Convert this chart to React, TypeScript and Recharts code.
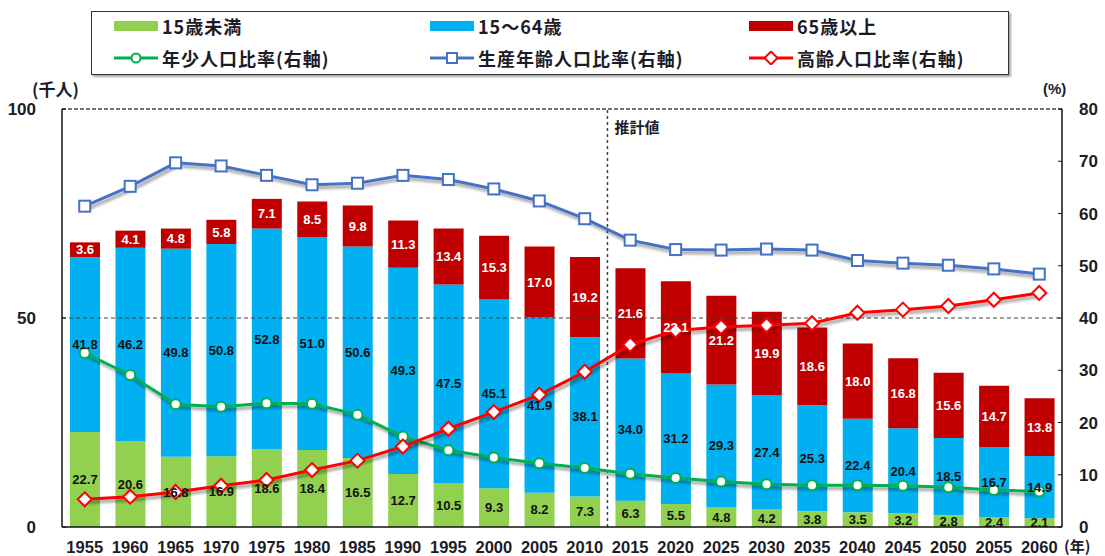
import React from "react";
import {
  Bar,
  ComposedChart,
  LabelList,
  Line,
  ReferenceLine,
  XAxis,
  YAxis,
} from "recharts";

const years = [
  "1955", "1960", "1965", "1970", "1975", "1980", "1985", "1990", "1995", "2000", "2005",
  "2010", "2015", "2020", "2025", "2030", "2035", "2040", "2045", "2050", "2055", "2060",
];
const under15 = [
  22.7, 20.6, 16.8, 16.9, 18.6, 18.4, 16.5, 12.7, 10.5, 9.3, 8.2,
  7.3, 6.3, 5.5, 4.8, 4.2, 3.8, 3.5, 3.2, 2.8, 2.4, 2.1,
];
const age15to64 = [
  41.8, 46.2, 49.8, 50.8, 52.8, 51.0, 50.6, 49.3, 47.5, 45.1, 41.9,
  38.1, 34.0, 31.2, 29.3, 27.4, 25.3, 22.4, 20.4, 18.5, 16.7, 14.9,
];
const over65 = [
  3.6, 4.1, 4.8, 5.8, 7.1, 8.5, 9.8, 11.3, 13.4, 15.3, 17.0,
  19.2, 21.6, 22.1, 21.2, 19.9, 18.6, 18.0, 16.8, 15.6, 14.7, 13.8,
];
// 比率 (%)
const youngRatio = [
  33.3, 29.1, 23.5, 23.0, 23.7, 23.6, 21.5, 17.3, 14.7, 13.3, 12.2,
  11.3, 10.2, 9.4, 8.7, 8.2, 8.0, 8.0, 7.9, 7.6, 7.1, 6.8,
];
const workingRatio = [
  61.4, 65.2, 69.7, 69.1, 67.3, 65.5, 65.8, 67.3, 66.5, 64.7, 62.4,
  59.0, 54.9, 53.1, 53.0, 53.2, 53.0, 51.0, 50.5, 50.1, 49.4, 48.4,
];
const elderlyRatio = [
  5.3, 5.8, 6.7, 7.9, 9.0, 10.9, 12.7, 15.4, 18.8, 22.0, 25.3,
  29.7, 34.9, 37.6, 38.3, 38.6, 39.0, 41.0, 41.6, 42.3, 43.5, 44.8,
];
const leftTicks = [0, 50, 100];
const rightTicks = [0, 10, 20, 30, 40, 50, 60, 70, 80];
const boundaryTicks = [1, 2, 3, 4, 5, 6, 7, 8, 9, 10, 11, 12, 13, 14, 15, 16, 17, 18, 19, 20, 21];
const estimateStart = 12; // 2015年以降は推計値

const data = years.map((year, i) => ({
  year,
  slot: i + 0.5,
  under15: under15[i],
  age15to64: age15to64[i],
  over65: over65[i],
  young: youngRatio[i],
  working: workingRatio[i],
  elderly: elderlyRatio[i],
}));

const GREEN = "#92d050";
const BLUE = "#00b0f0";
const RED = "#c00000";
const LGREEN = "#00b050";
const LBLUE = "#4472c4";
const LRED = "#ff0000";
const TXT = "#1c1c28";
const NUM_FONT = "'Liberation Sans', Arial, sans-serif";
const JP_FONT = "'Noto Sans CJK JP', sans-serif";

const labelStyle = { fontFamily: NUM_FONT, fontSize: 13, fontWeight: 700 };

function CircleDot(props: any) {
  const { cx, cy, index } = props;
  if (cx == null || cy == null) return <g key={index} />;
  return <circle key={index} cx={cx} cy={cy} r={5} fill="#fff" stroke={LGREEN} strokeWidth={2} />;
}

function SquareDot(props: any) {
  const { cx, cy, index } = props;
  if (cx == null || cy == null) return <g key={index} />;
  return <rect key={index} x={cx - 5.5} y={cy - 5.5} width={11} height={11} fill="#fff" stroke={LBLUE} strokeWidth={2} />;
}

function DiamondDot(props: any) {
  const { cx, cy, index } = props;
  if (cx == null || cy == null) return <g key={index} />;
  return (
    <path
      key={index}
      d={`M${cx},${cy - 7} L${cx + 7},${cy} L${cx},${cy + 7} L${cx - 7},${cy} Z`}
      fill="#fff"
      stroke={LRED}
      strokeWidth={2}
    />
  );
}

function SwatchItem({ x, y, color, text }: { x: number; y: number; color: string; text: string }) {
  return (
    <div style={{ position: "absolute", left: x, top: y - 12, height: 24, display: "flex", alignItems: "center" }}>
      <div style={{ width: 44, height: 10, background: color, marginRight: 4 }} />
      <span>{text}</span>
    </div>
  );
}

function LineItem({ x, y, color, marker, text }: { x: number; y: number; color: string; marker: string; text: string }) {
  return (
    <div style={{ position: "absolute", left: x, top: y - 12, height: 24, display: "flex", alignItems: "center" }}>
      <svg width={44} height={14} style={{ marginRight: 4 }}>
        <line x1={0} y1={7} x2={44} y2={7} stroke={color} strokeWidth={3} />
        {marker === "circle" && <circle cx={22} cy={7} r={4.5} fill="#fff" stroke={color} strokeWidth={2} />}
        {marker === "square" && <rect x={17} y={2} width={10} height={10} fill="#fff" stroke={color} strokeWidth={2} />}
        {marker === "diamond" && <path d="M22,0.5 L28.5,7 L22,13.5 L15.5,7 Z" fill="#fff" stroke={color} strokeWidth={2} />}
      </svg>
      <span>{text}</span>
    </div>
  );
}

function LegendBox() {
  return (
    <div
      style={{
        position: "absolute",
        left: 91,
        top: 11,
        width: 916,
        height: 62,
        border: "1.5px solid #333",
        boxShadow: "2px 2px 2px rgba(0,0,0,0.35)",
        fontFamily: JP_FONT,
        fontWeight: 700,
        fontSize: 18,
        letterSpacing: 1,
        color: TXT,
        background: "#fff",
      }}
    >
      <SwatchItem x={22} y={14} color={GREEN} text="15歳未満" />
      <SwatchItem x={338} y={14} color={BLUE} text="15～64歳" />
      <SwatchItem x={657} y={14} color={RED} text="65歳以上" />
      <LineItem x={22} y={46} color={LGREEN} marker="circle" text="年少人口比率(右軸)" />
      <LineItem x={338} y={46} color={LBLUE} marker="square" text="生産年齢人口比率(右軸)" />
      <LineItem x={657} y={46} color={LRED} marker="diamond" text="高齢人口比率(右軸)" />
    </div>
  );
}

const unitStyle = {
  position: "absolute" as const,
  whiteSpace: "nowrap" as const,
  width: "max-content",
  fontWeight: 700,
  lineHeight: "16px",
  color: TXT,
};

export default function App() {
  return (
    <div style={{ position: "absolute", left: 0, top: 0, width: 1105, height: 556, background: "#fff", overflow: "hidden" }}>
      <style>{`.shadowline { filter: url(#lineShadow); }`}</style>
      <svg width={0} height={0} style={{ position: "absolute" }}>
        <defs>
          <filter id="lineShadow" x="-10%" y="-10%" width="130%" height="140%">
            <feGaussianBlur in="SourceAlpha" stdDeviation="1.5" />
            <feOffset dx="2" dy="3" result="off" />
            <feComponentTransfer>
              <feFuncA type="linear" slope="0.4" />
            </feComponentTransfer>
            <feMerge>
              <feMergeNode />
              <feMergeNode in="SourceGraphic" />
            </feMerge>
          </filter>
        </defs>
      </svg>
      <ComposedChart
        width={1105}
        height={556}
        data={data}
        margin={{ top: 109, right: 0, bottom: 0, left: 0 }}
        barSize={30}
      >
        <XAxis
          xAxisId={0}
          dataKey="slot"
          type="number"
          domain={[0, 22]}
          ticks={boundaryTicks}
          allowDataOverflow
          height={0}
          mirror
          tick={false}
          tickSize={5}
          axisLine={false}
          tickLine={{ stroke: "#333", strokeWidth: 1 }}
        />
        <XAxis
          xAxisId={1}
          dataKey="year"
          height={29}
          tickSize={0}
          tickMargin={14}
          interval={0}
          axisLine={{ stroke: "#111", strokeWidth: 1.5 }}
          tick={{ fill: TXT, fontFamily: NUM_FONT, fontSize: 16.5, fontWeight: 700 }}
        />
        <YAxis
          yAxisId="left"
          domain={[0, 100]}
          ticks={leftTicks}
          width={62}
          tickSize={-4}
          tickMargin={30}
          axisLine={{ stroke: "#111", strokeWidth: 1.5 }}
          tickLine={{ stroke: "#111" }}
          tick={{ fill: TXT, fontFamily: NUM_FONT, fontSize: 17, fontWeight: 700 }}
        />
        <YAxis
          yAxisId="right"
          orientation="right"
          domain={[0, 80]}
          ticks={rightTicks}
          width={43}
          tickSize={-4}
          tickMargin={21}
          axisLine={{ stroke: "#111", strokeWidth: 1.5 }}
          tickLine={{ stroke: "#111" }}
          tick={{ fill: TXT, fontFamily: NUM_FONT, fontSize: 17, fontWeight: 700 }}
        />
        <ReferenceLine yAxisId="left" xAxisId={1} y={100} stroke="#444" strokeDasharray="4 2" strokeWidth={1.5} />
        <ReferenceLine yAxisId="left" xAxisId={1} y={50} stroke="#444" strokeDasharray="4 3" strokeWidth={1.2} />
        <ReferenceLine
          yAxisId="left"
          xAxisId={0}
          x={estimateStart}
          stroke="#444"
          strokeDasharray="3 3"
          strokeWidth={1.5}
          label={(p: any) => (
            <text
              x={p.viewBox.x + 7}
              y={p.viewBox.y + 24}
              fill={TXT}
              fontFamily={JP_FONT}
              fontWeight={700}
              fontSize={15}
            >
              推計値
            </text>
          )}
        />
        <Bar xAxisId={1} yAxisId="left" dataKey="under15" stackId="pop" fill={GREEN} isAnimationActive={false}>
          <LabelList dataKey="under15" position="center" fill="#111" style={labelStyle} formatter={(v: any) => Number(v).toFixed(1)} />
        </Bar>
        <Bar xAxisId={1} yAxisId="left" dataKey="age15to64" stackId="pop" fill={BLUE} isAnimationActive={false}>
          <LabelList dataKey="age15to64" position="center" fill="#111" style={labelStyle} formatter={(v: any) => Number(v).toFixed(1)} />
        </Bar>
        <Bar xAxisId={1} yAxisId="left" dataKey="over65" stackId="pop" fill={RED} isAnimationActive={false}>
          <LabelList dataKey="over65" position="center" fill="#fff" style={labelStyle} formatter={(v: any) => Number(v).toFixed(1)} />
        </Bar>
        <Line
          xAxisId={1}
          yAxisId="right"
          dataKey="young"
          className="shadowline"
          stroke={LGREEN}
          strokeWidth={3}
          dot={CircleDot}
          activeDot={false}
          isAnimationActive={false}
        />
        <Line
          xAxisId={1}
          yAxisId="right"
          dataKey="working"
          className="shadowline"
          stroke={LBLUE}
          strokeWidth={3}
          dot={SquareDot}
          activeDot={false}
          isAnimationActive={false}
        />
        <Line
          xAxisId={1}
          yAxisId="right"
          dataKey="elderly"
          className="shadowline"
          stroke={LRED}
          strokeWidth={3}
          dot={DiamondDot}
          activeDot={false}
          isAnimationActive={false}
        />
      </ComposedChart>
      <LegendBox />
      <div style={{ ...unitStyle, left: 32, top: 81, fontFamily: JP_FONT, fontSize: 17 }}>(千人)</div>
      <div style={{ ...unitStyle, left: 1043, top: 81, fontFamily: NUM_FONT, fontSize: 15 }}>(%)</div>
      <div style={{ ...unitStyle, left: 1064, top: 538, fontFamily: JP_FONT, fontSize: 15 }}>(年)</div>
    </div>
  );
}
